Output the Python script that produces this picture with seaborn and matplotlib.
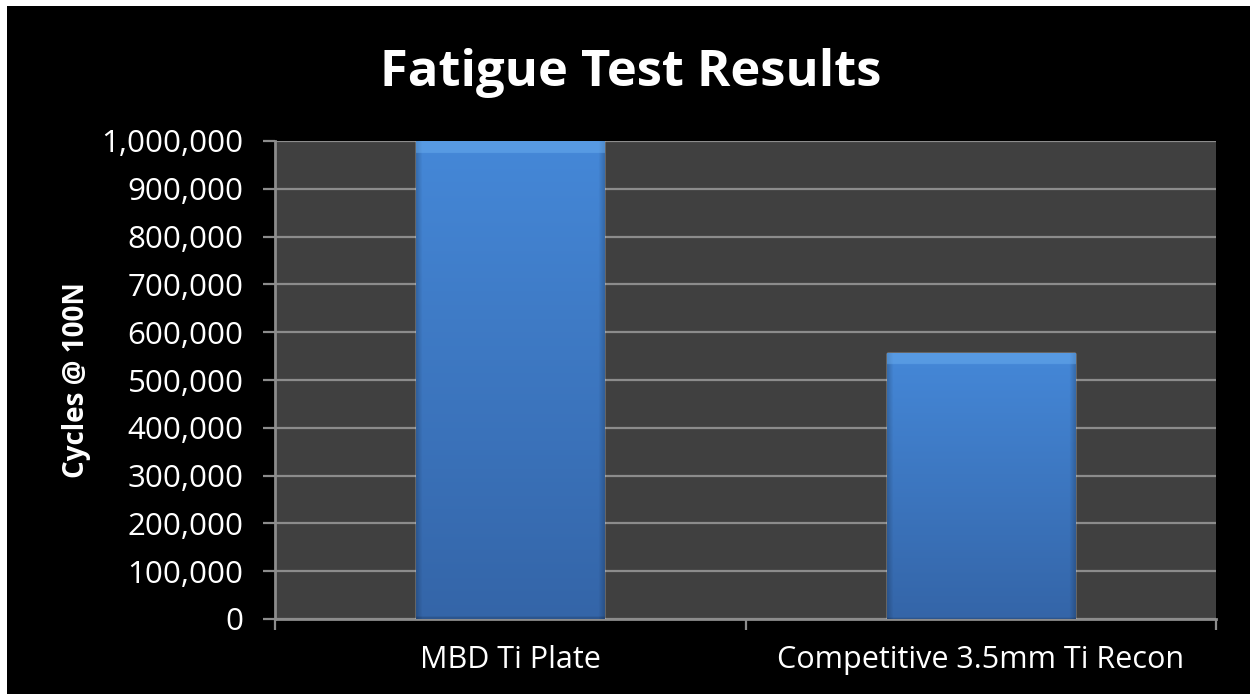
import numpy as np
import pandas as pd
import matplotlib
matplotlib.use("Agg")
import matplotlib.pyplot as plt
import matplotlib.ticker as mticker
from matplotlib.patches import Rectangle
from matplotlib.colors import to_rgb
import seaborn as sns

# Datos
categorias = ["MBD Ti Plate", "Competitive 3.5mm Ti Recon"]
ciclos = [1000000, 557000]
titulo = "Fatigue Test Results"
etiqueta_y = "Cycles @ 100N"
ticks_y = list(range(0, 1000001, 100000))

df = pd.DataFrame({"categoria": categorias, "ciclos": ciclos})

sns.set_theme(style="dark")
plt.rcParams["font.family"] = ["Open Sans", "DejaVu Sans"]

fig = plt.figure(figsize=(12.5, 6.94), dpi=100, facecolor="white")
# fondo negro con borde blanco fino arriba e izquierda
fondo = Rectangle((7 / 1250, 0), 1, 1 - 6 / 694, transform=fig.transFigure,
                  facecolor="black", edgecolor="none", zorder=-10)
fig.add_artist(fondo)

ax = fig.add_axes([275 / 1250, 1 - 619 / 694, (1216 - 275) / 1250, (619 - 141) / 694])
ax.set_zorder(1)
ax.set_facecolor("#404040")

sns.barplot(data=df, x="categoria", y="ciclos", color="#3f7cc8", width=0.4,
            saturation=1, ax=ax, zorder=3)

ax.set_xlim(-0.5, 1.5)
ax.set_ylim(0, 1000000)

# degradado tipo bisel en cada barra
abajo = np.array(to_rgb("#3465a8"))
arriba = np.array(to_rgb("#4588d8"))
for p in ax.patches:
    x0, y0 = p.get_x(), p.get_y()
    w, h = p.get_width(), p.get_height()
    ny, nx = 400, 100
    t = np.linspace(0, 1, ny)[:, None]
    img = abajo + (arriba - abajo) * t[..., None]
    img = np.repeat(img, nx, axis=1)
    # bordes laterales mas oscuros
    xs = np.linspace(0, 1, nx)
    borde = np.clip(np.minimum(xs, 1 - xs) / 0.03, 0, 1)
    img = img * (0.82 + 0.18 * borde)[None, :, None]
    # franja superior clara
    alto_px = h / 1000000 * 478
    franja = max(1, int(ny * 12 / alto_px))
    img[-franja:] = img[-franja:] * 0.55 + np.array(to_rgb("#6fb2f2")) * 0.45
    img[:2] = img[:2] * 0.85
    im = ax.imshow(np.clip(img, 0, 1), extent=[x0, x0 + w, y0, y0 + h], origin="lower",
                   aspect="auto", zorder=4, interpolation="bilinear")
    im.set_clip_path(p)

ax.set_xlim(-0.5, 1.5)
ax.set_ylim(0, 1000000)

# rejilla y ejes
ax.set_yticks(ticks_y)
ax.yaxis.set_major_formatter(mticker.FuncFormatter(lambda v, pos: f"{int(v):,}"))
ax.grid(axis="y", color="#8c8c8c", linewidth=1.6, zorder=1)
ax.grid(axis="x", visible=False)
ax.set_axisbelow(True)

ax.set_xticks([-0.5, 0.5, 1.5])
ax.set_xticklabels([])
ax.set_xticks([0, 1], minor=True)
ax.set_xticklabels(categorias, minor=True)

ax.tick_params(axis="y", which="major", direction="out", length=8.6, width=1.6,
               color="#8c8c8c", labelcolor="white", labelsize=22.5, pad=14, left=True)
ax.tick_params(axis="x", which="major", direction="out", length=8, width=1.6,
               color="#8c8c8c", bottom=True)
ax.tick_params(axis="x", which="minor", length=0, labelcolor="white", labelsize=22, pad=19)

for lado in ["top", "right"]:
    ax.spines[lado].set_visible(False)
for lado in ["left", "bottom"]:
    ax.spines[lado].set_visible(True)
    ax.spines[lado].set_color("#8c8c8c")
    ax.spines[lado].set_linewidth(2)

ax.set_xlabel("")
ax.set_ylabel(etiqueta_y, color="white", fontsize=20, fontweight="bold")
ax.yaxis.set_label_coords(-184 / 941, 0.5)

fig.text(631 / 1250, 1 - 73 / 694, titulo, color="white", fontsize=36.5, fontweight="bold",
         ha="center", va="center")

fig.savefig("out.png", dpi=100, facecolor=fig.get_facecolor())
